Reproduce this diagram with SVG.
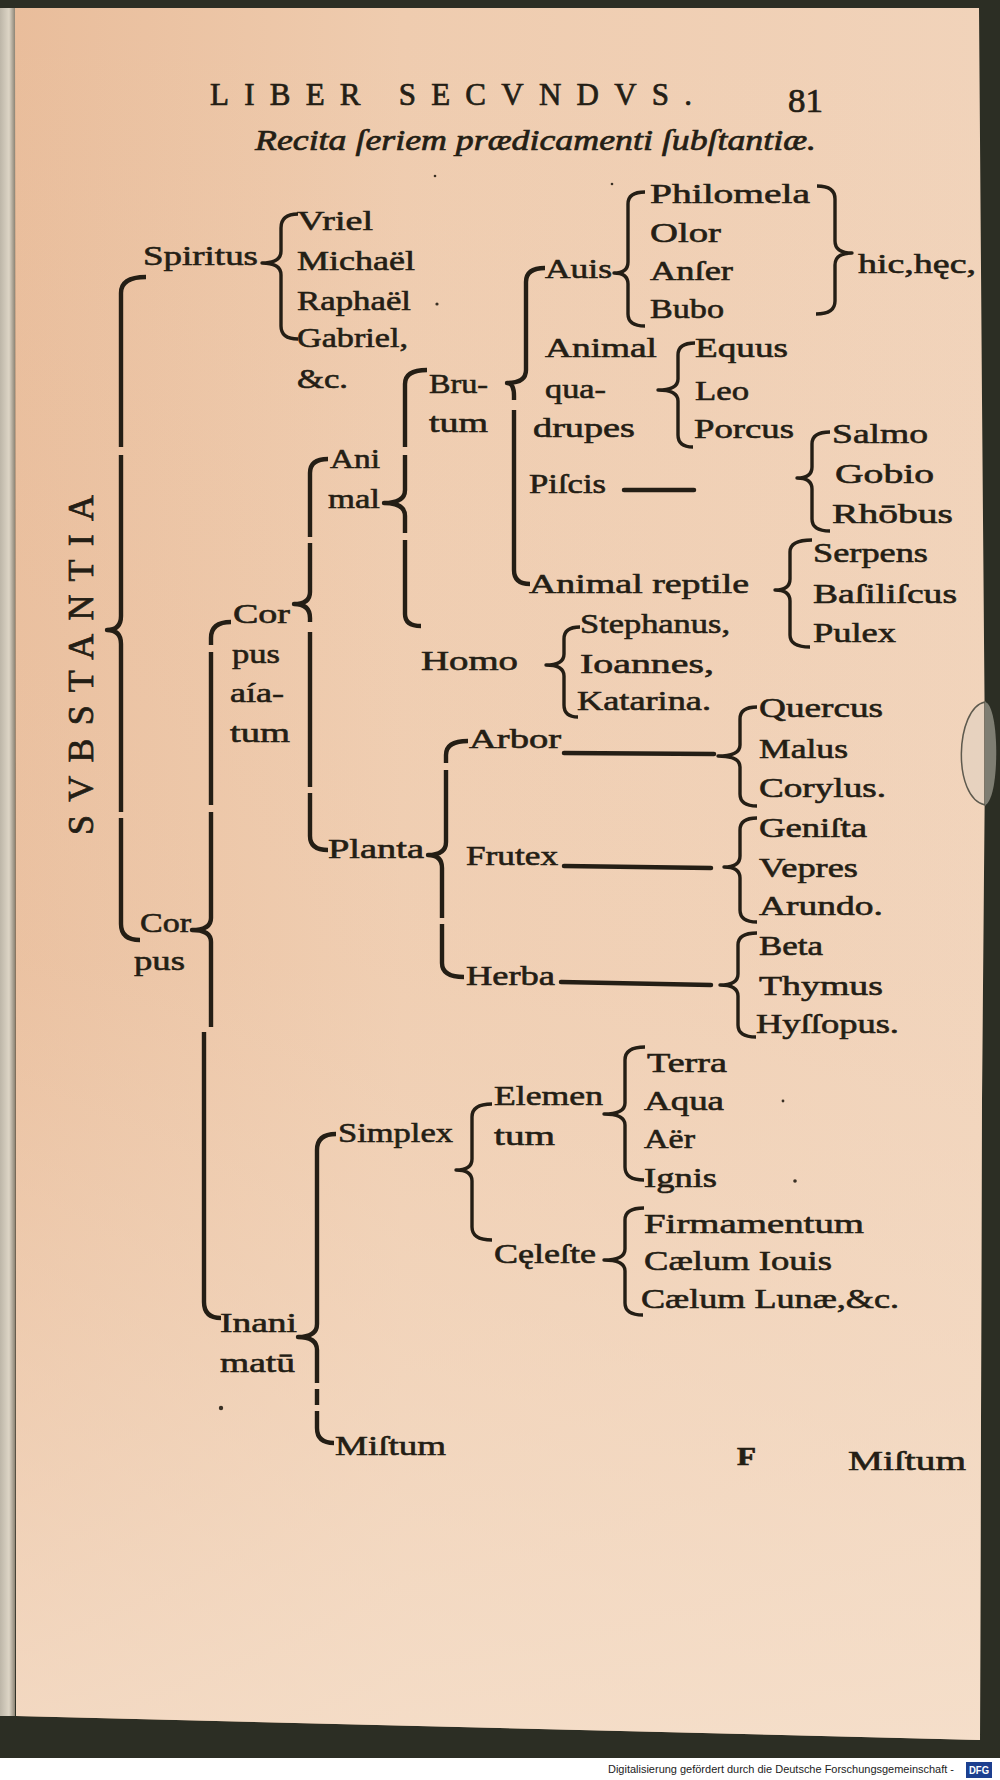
<svg xmlns="http://www.w3.org/2000/svg" width="1000" height="1780" viewBox="0 0 1000 1780">
<defs>
<linearGradient id="pageH" x1="0" y1="0" x2="1" y2="0">
<stop offset="0" stop-color="#e9bd9b"/>
<stop offset="0.4" stop-color="#efccaf"/>
<stop offset="1" stop-color="#f1d3ba"/>
</linearGradient>
<linearGradient id="pageV" x1="0" y1="0" x2="0" y2="1">
<stop offset="0" stop-color="#f4dcc6" stop-opacity="0"/>
<stop offset="0.55" stop-color="#f4dcc6" stop-opacity="0.15"/>
<stop offset="1" stop-color="#f6e2cf" stop-opacity="0.75"/>
</linearGradient>
<linearGradient id="leftStrip" x1="0" y1="0" x2="1" y2="0">
<stop offset="0" stop-color="#bdb6a8"/>
<stop offset="0.6" stop-color="#ddd5c6"/>
<stop offset="1" stop-color="#8d8576"/>
</linearGradient>
<style>
.t{font-family:"Liberation Serif","Times New Roman",serif;font-size:28px;fill:#241e15;stroke:#241e15;stroke-width:0.6}
.h{font-family:"Liberation Serif","Times New Roman",serif;fill:#241e15;stroke:#241e15;stroke-width:0.7}
.b{fill:none;stroke:#241e15;stroke-width:3.4;stroke-linecap:butt;stroke-linejoin:round}
.L{stroke-width:4.4}
.d{fill:none;stroke:#241e15;stroke-width:4.5;stroke-linecap:round}
.sp{fill:#3a3024}
</style>
</defs>

<!-- scan background -->
<rect x="0" y="0" width="1000" height="1780" fill="#2c2e24"/>
<rect x="0" y="8" width="15" height="1708" fill="url(#leftStrip)"/>
<polygon points="15,8 979,8 982,400 985,760 982,1100 980,1740 16,1716" fill="url(#pageH)"/>
<polygon points="15,8 979,8 982,400 985,760 982,1100 980,1740 16,1716" fill="url(#pageV)"/>
<path d="M985,702 C955,708 952,798 985,805 Z" fill="#e3d2c1" fill-opacity="0.7" stroke="#5e5a4e" stroke-width="1.5"/>
<path d="M985,702 C1000,705 1000,800 985,805 Z" fill="#7e7d72"/>
<rect x="0" y="1758" width="1000" height="22" fill="#ffffff"/>
<text x="608" y="1773" font-family="Liberation Sans, Arial, sans-serif" font-size="11" fill="#222" textLength="346" lengthAdjust="spacingAndGlyphs">Digitalisierung gefördert durch die Deutsche Forschungsgemeinschaft -</text>
<rect x="966" y="1762" width="26" height="16" fill="#1c3f8f"/>
<text x="969" y="1774" font-family="Liberation Sans, Arial, sans-serif" font-size="10" font-weight="bold" fill="#ffffff" textLength="20" lengthAdjust="spacingAndGlyphs">DFG</text>

<!-- specks -->
<g id="specks">
<circle class="sp" cx="437" cy="304" r="1.6"/>
<circle class="sp" cx="435" cy="176" r="1.3"/>
<circle class="sp" cx="612" cy="184" r="1.3"/>
<circle class="sp" cx="783" cy="1101" r="1.4"/>
<circle class="sp" cx="795" cy="1181" r="1.8"/>
<circle class="sp" cx="221" cy="1408" r="2.2"/>
</g>

<!-- header -->
<g id="header">
<text class="h" x="210" y="105" font-size="31" textLength="482">LIBER SECVNDVS.</text>
<text class="h" x="788" y="112" font-size="34" textLength="35" lengthAdjust="spacingAndGlyphs">81</text>
<text class="h" x="255" y="150" font-size="30" font-style="italic" textLength="561" lengthAdjust="spacingAndGlyphs">Recita ſeriem prædicamenti ſubſtantiæ.</text>
</g>

<!-- connectors -->
<g id="connectors">
<path class="b L" d="M146,277 Q121,277 121,293 L121,447 M121,455 L121,616 Q121,630 107,630 Q121,630 121,644 L121,812 M121,818 L121,924 Q121,940 140,940"/>
<path class="b L" d="M231,622 Q211,622 211,638 L211,645 M211,652 L211,805 M211,812 L211,918 Q211,930 192,930 Q211,930 211,942 L211,1027 M204,1032 L204,1302 Q204,1318 221,1318"/>
<path class="b L" d="M328,459 Q310,459 310,473 L310,537 M310,543 L310,592 Q310,604 294,604 Q310,604 310,618 L310,622 M310,632 L310,787 M310,793 L310,836 Q310,850 328,850"/>
<path class="b L" d="M427,370 Q405,370 405,384 L405,447 M405,455 L405,490 Q405,503 384,503 Q405,503 405,516 L405,533 M405,540 L405,614 Q405,626 421,626"/>
<path class="b L" d="M545,268 Q526,268 526,282 L526,370 Q526,383 507,383 Q514,383 514,396 L514,400 M514,410 L514,570 Q514,584 530,584"/>
<path class="b" d="M298,214 Q281,214 281,228 L281,251 Q281,263 262,263 Q281,263 281,275 L281,326 Q281,339 298,339"/>
<path class="b" d="M645,192 Q628,192 628,204 L628,262 Q628,273 614,273 Q628,273 628,284 L628,314 Q628,326 645,326"/>
<path class="b" d="M817,186 Q835,186 835,199 L835,241 Q835,253 852,253 Q835,253 835,265 L835,301 Q835,314 816,314"/>
<path class="b" d="M695,343 Q678,343 678,355 L678,379 Q678,390 658,390 Q678,390 678,401 L678,435 Q678,447 693,447"/>
<path class="b" d="M830,432 Q812,432 812,444 L812,467 Q812,478 797,478 Q812,478 812,489 L812,519 Q812,531 830,531"/>
<path class="d" d="M624,490 L694,490"/>
<path class="b" d="M812,540 Q790,540 790,552 L790,579 Q790,590 775,590 Q790,590 790,601 L790,635 Q790,647 810,647"/>
<path class="b" d="M580,627 Q564,627 564,639 L564,654 Q564,665 546,665 Q564,665 564,676 L564,705 Q564,717 578,717"/>
<path class="b L" d="M468,741 Q446,741 446,755 L446,763 M446,770 L446,842 Q446,855 428,855 Q442,855 442,868 L442,918 M442,924 L442,963 Q442,977 464,977"/>
<path class="d" d="M564,753 L714,754"/>
<path class="d" d="M564,866 L711,868"/>
<path class="d" d="M561,982 L711,985"/>
<path class="b" d="M757,707 Q740,707 740,719 L740,745 Q740,756 718,756 Q740,756 740,767 L740,794 Q740,806 757,806"/>
<path class="b" d="M757,818 Q740,818 740,830 L740,856 Q740,867 724,867 Q740,867 740,878 L740,910 Q740,922 757,922"/>
<path class="b" d="M757,933 Q738,933 738,945 L738,974 Q738,985 720,985 Q738,985 738,996 L738,1025 Q738,1037 756,1037"/>
<path class="b" d="M645,1047 Q625,1047 625,1060 L625,1103 Q625,1114 604,1114 Q625,1114 625,1125 L625,1167 Q625,1180 644,1180"/>
<path class="b" d="M492,1104 Q472,1104 472,1117 L472,1159 Q472,1170 456,1170 Q472,1170 472,1181 L472,1227 Q472,1240 492,1240"/>
<path class="b" d="M644,1208 Q625,1208 625,1220 L625,1249 Q625,1260 604,1260 Q625,1260 625,1271 L625,1303 Q625,1315 643,1315"/>
<path class="b L" d="M336,1134 Q317,1134 317,1150 L317,1324 Q317,1337 298,1337 Q317,1337 317,1350 L317,1383 M317,1389 L317,1405 M317,1411 L317,1428 Q317,1443 334,1443"/>
</g>

<!-- nodes -->
<g id="n-substantia"><text class="h" font-size="36" transform="translate(93,835) rotate(-90)" x="0" y="0" textLength="340">SVBSTANTIA</text></g>
<g id="n-spiritus"><text class="t" x="143" y="265" textLength="115" lengthAdjust="spacingAndGlyphs">Spiritus</text></g>
<g id="n-vriel"><text class="t" x="297" y="230" textLength="76" lengthAdjust="spacingAndGlyphs">Vriel</text></g>
<g id="n-michael"><text class="t" x="297" y="270" textLength="118" lengthAdjust="spacingAndGlyphs">Michaël</text></g>
<g id="n-raphael"><text class="t" x="297" y="310" textLength="114" lengthAdjust="spacingAndGlyphs">Raphaël</text></g>
<g id="n-gabriel"><text class="t" x="297" y="347" textLength="111" lengthAdjust="spacingAndGlyphs">Gabriel,</text></g>
<g id="n-etc1"><text class="t" x="297" y="388" textLength="51" lengthAdjust="spacingAndGlyphs">&amp;c.</text></g>
<g id="n-philomela"><text class="t" x="650" y="203" textLength="160" lengthAdjust="spacingAndGlyphs">Philomela</text></g>
<g id="n-olor"><text class="t" x="650" y="242" textLength="71" lengthAdjust="spacingAndGlyphs">Olor</text></g>
<g id="n-anser"><text class="t" x="650" y="280" textLength="83" lengthAdjust="spacingAndGlyphs">Anſer</text></g>
<g id="n-bubo"><text class="t" x="650" y="318" textLength="74" lengthAdjust="spacingAndGlyphs">Bubo</text></g>
<g id="n-hichec"><text class="t" x="858" y="273" textLength="118" lengthAdjust="spacingAndGlyphs">hic,hęc,</text></g>
<g id="n-auis"><text class="t" x="545" y="278" textLength="67" lengthAdjust="spacingAndGlyphs">Auis</text></g>
<g id="n-quadrupes">
<text class="t" x="545" y="357" textLength="112" lengthAdjust="spacingAndGlyphs">Animal</text>
<text class="t" x="545" y="398" textLength="61" lengthAdjust="spacingAndGlyphs">qua-</text>
<text class="t" x="533" y="437" textLength="102" lengthAdjust="spacingAndGlyphs">drupes</text>
</g>
<g id="n-equus"><text class="t" x="695" y="357" textLength="93" lengthAdjust="spacingAndGlyphs">Equus</text></g>
<g id="n-leo"><text class="t" x="695" y="400" textLength="54" lengthAdjust="spacingAndGlyphs">Leo</text></g>
<g id="n-porcus"><text class="t" x="694" y="438" textLength="100" lengthAdjust="spacingAndGlyphs">Porcus</text></g>
<g id="n-brutum">
<text class="t" x="429" y="393" textLength="59" lengthAdjust="spacingAndGlyphs">Bru-</text>
<text class="t" x="429" y="432" textLength="59" lengthAdjust="spacingAndGlyphs">tum</text>
</g>
<g id="n-salmo"><text class="t" x="832" y="443" textLength="96" lengthAdjust="spacingAndGlyphs">Salmo</text></g>
<g id="n-gobio"><text class="t" x="835" y="483" textLength="99" lengthAdjust="spacingAndGlyphs">Gobio</text></g>
<g id="n-rhobus"><text class="t" x="832" y="523" textLength="121" lengthAdjust="spacingAndGlyphs">Rhōbus</text></g>
<g id="n-piscis"><text class="t" x="529" y="493" textLength="77" lengthAdjust="spacingAndGlyphs">Piſcis</text></g>
<g id="n-animal">
<text class="t" x="330" y="468" textLength="50" lengthAdjust="spacingAndGlyphs">Ani</text>
<text class="t" x="328" y="508" textLength="52" lengthAdjust="spacingAndGlyphs">mal</text>
</g>
<g id="n-serpens"><text class="t" x="813" y="562" textLength="115" lengthAdjust="spacingAndGlyphs">Serpens</text></g>
<g id="n-reptile"><text class="t" x="529" y="593" textLength="220" lengthAdjust="spacingAndGlyphs">Animal reptile</text></g>
<g id="n-basiliscus"><text class="t" x="813" y="603" textLength="144" lengthAdjust="spacingAndGlyphs">Baſiliſcus</text></g>
<g id="n-pulex"><text class="t" x="813" y="642" textLength="83" lengthAdjust="spacingAndGlyphs">Pulex</text></g>
<g id="n-corpus-aiatum">
<text class="t" x="233" y="623" textLength="57" lengthAdjust="spacingAndGlyphs">Cor</text>
<text class="t" x="232" y="663" textLength="48" lengthAdjust="spacingAndGlyphs">pus</text>
<text class="t" x="230" y="702" textLength="54" lengthAdjust="spacingAndGlyphs">aía-</text>
<text class="t" x="230" y="742" textLength="60" lengthAdjust="spacingAndGlyphs">tum</text>
</g>
<g id="n-homo"><text class="t" x="421" y="670" textLength="97" lengthAdjust="spacingAndGlyphs">Homo</text></g>
<g id="n-stephanus"><text class="t" x="580" y="633" textLength="150" lengthAdjust="spacingAndGlyphs">Stephanus,</text></g>
<g id="n-ioannes"><text class="t" x="580" y="673" textLength="134" lengthAdjust="spacingAndGlyphs">Ioannes,</text></g>
<g id="n-katarina"><text class="t" x="577" y="710" textLength="134" lengthAdjust="spacingAndGlyphs">Katarina.</text></g>
<g id="n-quercus"><text class="t" x="759" y="717" textLength="124" lengthAdjust="spacingAndGlyphs">Quercus</text></g>
<g id="n-malus"><text class="t" x="759" y="758" textLength="89" lengthAdjust="spacingAndGlyphs">Malus</text></g>
<g id="n-corylus"><text class="t" x="759" y="797" textLength="127" lengthAdjust="spacingAndGlyphs">Corylus.</text></g>
<g id="n-arbor"><text class="t" x="469" y="748" textLength="92" lengthAdjust="spacingAndGlyphs">Arbor</text></g>
<g id="n-genista"><text class="t" x="759" y="837" textLength="108" lengthAdjust="spacingAndGlyphs">Geniſta</text></g>
<g id="n-vepres"><text class="t" x="759" y="877" textLength="99" lengthAdjust="spacingAndGlyphs">Vepres</text></g>
<g id="n-arundo"><text class="t" x="759" y="915" textLength="124" lengthAdjust="spacingAndGlyphs">Arundo.</text></g>
<g id="n-planta"><text class="t" x="328" y="858" textLength="96" lengthAdjust="spacingAndGlyphs">Planta</text></g>
<g id="n-frutex"><text class="t" x="466" y="865" textLength="92" lengthAdjust="spacingAndGlyphs">Frutex</text></g>
<g id="n-beta"><text class="t" x="759" y="955" textLength="64" lengthAdjust="spacingAndGlyphs">Beta</text></g>
<g id="n-thymus"><text class="t" x="759" y="995" textLength="124" lengthAdjust="spacingAndGlyphs">Thymus</text></g>
<g id="n-hyssopus"><text class="t" x="756" y="1033" textLength="143" lengthAdjust="spacingAndGlyphs">Hyſſopus.</text></g>
<g id="n-herba"><text class="t" x="466" y="985" textLength="89" lengthAdjust="spacingAndGlyphs">Herba</text></g>
<g id="n-corpus">
<text class="t" x="140" y="932" textLength="51" lengthAdjust="spacingAndGlyphs">Cor</text>
<text class="t" x="134" y="970" textLength="51" lengthAdjust="spacingAndGlyphs">pus</text>
</g>
<g id="n-terra"><text class="t" x="647" y="1072" textLength="80" lengthAdjust="spacingAndGlyphs">Terra</text></g>
<g id="n-aqua"><text class="t" x="644" y="1110" textLength="80" lengthAdjust="spacingAndGlyphs">Aqua</text></g>
<g id="n-aer"><text class="t" x="644" y="1148" textLength="51" lengthAdjust="spacingAndGlyphs">Aër</text></g>
<g id="n-ignis"><text class="t" x="644" y="1187" textLength="73" lengthAdjust="spacingAndGlyphs">Ignis</text></g>
<g id="n-elementum">
<text class="t" x="494" y="1105" textLength="109" lengthAdjust="spacingAndGlyphs">Elemen</text>
<text class="t" x="494" y="1145" textLength="61" lengthAdjust="spacingAndGlyphs">tum</text>
</g>
<g id="n-simplex"><text class="t" x="338" y="1142" textLength="115" lengthAdjust="spacingAndGlyphs">Simplex</text></g>
<g id="n-firmamentum"><text class="t" x="644" y="1233" textLength="220" lengthAdjust="spacingAndGlyphs">Firmamentum</text></g>
<g id="n-caelum-iouis"><text class="t" x="644" y="1270" textLength="188" lengthAdjust="spacingAndGlyphs">Cælum Iouis</text></g>
<g id="n-caelum-lunae"><text class="t" x="641" y="1308" textLength="258" lengthAdjust="spacingAndGlyphs">Cælum Lunæ,&amp;c.</text></g>
<g id="n-celeste"><text class="t" x="494" y="1263" textLength="102" lengthAdjust="spacingAndGlyphs">Cęleſte</text></g>
<g id="n-inanimatum">
<text class="t" x="220" y="1332" textLength="77" lengthAdjust="spacingAndGlyphs">Inani</text>
<text class="t" x="220" y="1372" textLength="75" lengthAdjust="spacingAndGlyphs">matū</text>
</g>
<g id="n-mistum"><text class="t" x="335" y="1455" textLength="111" lengthAdjust="spacingAndGlyphs">Miſtum</text></g>
<g id="footer">
<text class="h" x="737" y="1465" font-size="26" font-weight="bold" textLength="19" lengthAdjust="spacingAndGlyphs">F</text>
<text class="t" x="848" y="1470" textLength="118" lengthAdjust="spacingAndGlyphs">Miſtum</text>
</g>
</svg>
